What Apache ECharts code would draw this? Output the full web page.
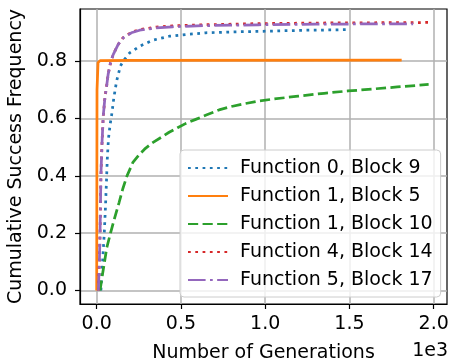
<!DOCTYPE html>
<html>
<head>
<meta charset="utf-8">
<script src="https://cdn.jsdelivr.net/npm/echarts@6/dist/echarts.min.js"></script>
<style>
  html, body { margin: 0; padding: 0; background: #fff; }
  #chart { width: 453px; height: 362px; }
</style>
</head>
<body>
<div id="chart"></div>
<script>
// Legend names
const seriesNames = [
    "Function 0, Block 9",
    "Function 1, Block 5",
    "Function 1, Block 10",
    "Function 4, Block 14",
    "Function 5, Block 17",
];

// [generation, cumulative success frequency]
const f0b9 = [[25, 0], [31, 0.06], [37, 0.12], [45, 0.2], [52, 0.29], [58, 0.38], [63, 0.46], [70, 0.53],
    [80, 0.58], [88, 0.609], [102, 0.673], [118, 0.73], [141, 0.783], [157, 0.8], [196, 0.829], [255, 0.852],
    [333, 0.873], [431, 0.887], [529, 0.893], [647, 0.899], [800, 0.902], [960, 0.904], [1100, 0.906],
    [1250, 0.908], [1400, 0.909], [1480, 0.91]];
const f1b5 = [[0, 0], [2, 0.7], [8, 0.795], [20, 0.802], [200, 0.803], [1810, 0.804]];
const f1b10 = [[20, 0], [30, 0.04], [43, 0.087], [60, 0.15], [82, 0.2], [105, 0.25], [133, 0.307], [155, 0.355],
    [180, 0.4], [215, 0.447], [250, 0.472], [284, 0.493], [330, 0.515], [382, 0.534], [430, 0.552], [480, 0.568],
    [530, 0.583], [588, 0.597], [650, 0.612], [726, 0.63], [800, 0.642], [880, 0.652], [960, 0.661],
    [1050, 0.668], [1196, 0.678], [1350, 0.688], [1490, 0.696], [1640, 0.703], [1784, 0.71], [1970, 0.719]];
const f4b14 = [[10, 0], [16, 0.1], [20, 0.2], [25, 0.4], [32, 0.52], [39, 0.609], [49, 0.673], [59, 0.713],
    [68, 0.754], [82, 0.794], [98, 0.823], [127, 0.858], [157, 0.882], [206, 0.901], [255, 0.91], [353, 0.919],
    [451, 0.923], [647, 0.927], [960, 0.931], [1300, 0.933], [1650, 0.934], [1967, 0.935]];
const f5b17 = [[10, 0], [16, 0.1], [20, 0.2], [25, 0.4], [32, 0.52], [39, 0.609], [49, 0.673], [59, 0.713],
    [68, 0.754], [82, 0.794], [98, 0.823], [127, 0.858], [157, 0.881], [206, 0.899], [255, 0.908], [353, 0.916],
    [451, 0.92], [647, 0.924], [960, 0.927], [1300, 0.929], [1600, 0.93], [1878, 0.93]];

const xTicks = [0, 500, 1000, 1500, 2000];
const yTicks = [0, 0.2, 0.4, 0.6, 0.8];

const colors = ["#1f77b4", "#ff7f0e", "#2ca02c", "#d62728", "#9467bd"];
const lw = 2.75;
const dashes = [
    [lw, 1.65 * lw],
    "solid",
    [3.7 * lw, 1.6 * lw],
    [lw, 1.65 * lw],
    [6.4 * lw, 1.6 * lw, lw, 1.6 * lw],
];
const allData = [f0b9, f1b5, f1b10, f4b14, f5b17];

const font = "DejaVu Sans";
const fs = 19;
const chart = echarts.init(document.getElementById("chart"), null, { renderer: "canvas" });

chart.setOption({
    animation: false,
    grid: {
        left: 80, right: 6, top: 9, bottom: 58,
        outerBoundsMode: "none",
        containLabel: false,
        show: true, borderColor: "#000", borderWidth: 1.2, backgroundColor: "transparent",
    },
    xAxis: {
        type: "value",
        min: -99, max: 2079,
        name: "Number of Generations",
        nameLocation: "middle",
        nameGap: 40,
        nameTextStyle: { fontFamily: font, fontSize: fs, color: "#000" },
        axisLine: { show: true, onZero: false, lineStyle: { color: "#000", width: 1.2 } },
        axisTick: { show: true, length: 5, customValues: xTicks, lineStyle: { color: "#000", width: 1.2 } },
        axisLabel: {
            customValues: xTicks, margin: 11,
            fontFamily: font, fontSize: fs, color: "#000",
            formatter: (v) => (v / 1000).toFixed(1),
        },
        splitLine: { show: true, lineStyle: { color: "#b0b0b0", width: 1.5 } },
    },
    yAxis: {
        type: "value",
        min: -0.047, max: 0.982,
        name: "Cumulative Success Frequency",
        nameLocation: "middle",
        nameGap: 49,
        nameTextStyle: { fontFamily: font, fontSize: fs, color: "#000" },
        axisLine: { show: true, onZero: false, lineStyle: { color: "#000", width: 1.2 } },
        axisTick: { show: true, length: 5, customValues: yTicks, lineStyle: { color: "#000", width: 1.2 } },
        axisLabel: {
            customValues: yTicks, margin: 13,
            fontFamily: font, fontSize: fs, color: "#000",
            formatter: (v) => v.toFixed(1),
        },
        splitLine: { show: true, lineStyle: { color: "#b0b0b0", width: 1.5 } },
    },
    legend: {
        orient: "vertical",
        left: 180, top: 150,
        padding: [8, 8, 7, 7],
        itemWidth: 40, itemHeight: 14, itemGap: 8,
        itemStyle: { opacity: 0 },
        backgroundColor: "rgba(255,255,255,0.8)",
        borderColor: "#cccccc", borderWidth: 1, borderRadius: 4,
        textStyle: { fontFamily: font, fontSize: fs, color: "#000", lineHeight: 20, padding: [0, 0, 0, 7] },
        data: seriesNames,
    },
    graphic: [{
        type: "text", right: 5, top: 342,
        style: { text: "1e3", font: fs + "px 'DejaVu Sans'", fill: "#000" },
    }],
    series: seriesNames.map((name, i) => ({
        name: name,
        type: "line",
        data: allData[i],
        symbol: "none",
        smooth: false,
        z: 2 + i,
        color: colors[i],
        lineStyle: { color: colors[i], width: lw, type: dashes[i] },
    })),
});
</script>
</body>
</html>
